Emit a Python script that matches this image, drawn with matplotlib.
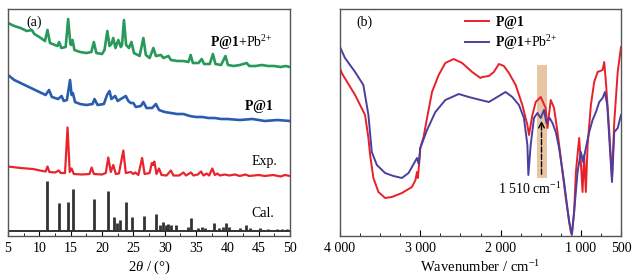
import matplotlib
matplotlib.use("Agg")
import matplotlib.pyplot as plt
from matplotlib.ticker import MultipleLocator, FixedLocator

plt.rcParams['font.family'] = ['Liberation Serif', 'DejaVu Serif']
plt.rcParams['mathtext.fontset'] = 'custom'
plt.rcParams['mathtext.rm'] = 'Liberation Serif'
plt.rcParams['mathtext.it'] = 'Liberation Serif:italic'
plt.rcParams['mathtext.bf'] = 'Liberation Serif:bold'

# ---- XRD data (2theta, offset intensity a.u.) ----
pb_2t = [5.0, 6.0, 7.0, 8.0, 8.8, 9.2, 10.0, 10.9, 11.3, 11.7, 12.5, 12.9, 13.15, 13.5, 14.2, 14.6,
         14.95, 15.1, 15.3, 15.6, 16.5, 17.5, 18.3, 18.7, 19.1, 20.0, 20.4, 20.85, 21.2, 21.5, 21.8,
         22.15, 22.6, 23.0, 23.2, 23.5, 23.85, 24.3, 24.7, 25.1, 26.0, 26.6, 27.0, 27.6, 28.2, 28.6,
         29.4, 29.8, 30.6, 31.0, 32.0, 33.0, 33.8, 34.15, 34.5, 35.4, 35.9, 36.3, 37.2, 37.7, 38.1,
         39.0, 39.7, 40.1, 41.0, 42.0, 43.1, 43.5, 44.5, 45.5, 46.5, 47.5, 48.5, 49.3, 50.0]
pb_int = [213, 210, 208, 205, 206, 202, 199, 195, 206, 193, 191, 190, 194, 188, 189, 217,
          192, 191, 196, 186, 184, 183, 184, 194, 183, 182, 186, 205, 190, 192, 198,
          188, 196, 189, 191, 216, 191, 188, 194, 183, 180, 198, 181, 178, 188, 180,
          181, 178, 180, 176, 175, 175, 174, 181, 173, 173, 177, 172, 172, 182, 172,
          171, 180, 171, 170, 171, 173, 170, 170, 171, 170, 170, 169, 170, 169]

p1_2t = [5.0, 6.0, 7.0, 8.0, 9.0, 10.0, 11.0, 11.55, 12.0, 13.0, 13.55, 13.9, 14.4, 14.9, 15.15,
         15.35, 15.7, 16.5, 17.5, 18.5, 18.8, 19.3, 20.3, 20.8, 21.2, 21.5, 22.1, 22.5, 23.0, 23.8,
         24.2, 24.6, 25.0, 25.4, 26.2, 26.6, 27.1, 28.0, 28.6, 29.1, 30.0, 31.0, 32.0, 33.0, 34.0,
         35.0, 36.0, 37.0, 38.0, 39.0, 40.0, 42.0, 44.0, 46.0, 48.0, 50.0]
p1_int = [161, 156, 153, 150, 147, 144, 141, 146, 139, 137, 140, 135, 136, 156, 141,
          143, 134, 132, 131, 132, 137, 131, 132, 141, 145, 137, 140, 135, 137, 140,
          135, 133, 133, 129, 130, 134, 128, 128, 132, 126, 124, 123, 122, 122, 120,
          119, 119, 118, 118, 117, 117, 116, 117, 115, 116, 115]

exp_2t = [5.0, 7.0, 9.0, 10.5, 11.0, 11.3, 11.6, 12.5, 13.1, 13.4, 14.1, 14.5, 14.85, 15.15, 15.5,
          16.8, 18.0, 18.35, 18.7, 20.0, 20.6, 21.0, 21.4, 21.8, 22.2, 22.7, 23.4, 23.8, 24.6, 25.0,
          25.3, 25.8, 26.4, 26.8, 27.6, 27.95, 28.15, 28.35, 28.7, 29.1, 29.5, 30.3, 31.0, 31.4,
          32.3, 33.0, 33.4, 34.2, 34.6, 35.3, 35.8, 36.2, 36.7, 37.1, 37.6, 38.0, 38.4, 38.8, 39.6,
          40.3, 41.2, 42.0, 42.9, 43.5, 45.0, 46.0, 47.3, 48.5, 49.2, 50.0]
exp_int = [69.5, 68, 67, 65, 64.5, 69.5, 64, 63.5, 65.5, 63, 63, 108.5, 64, 67.5, 62,
           61.5, 62, 68.5, 62, 61.5, 63, 78.5, 64, 71, 62, 62.5, 85.5, 63, 64, 62,
           63.5, 61, 78, 62, 63, 73, 71, 74.5, 62, 67.5, 61, 60.5, 65.5, 60.5,
           60.5, 63.5, 60.5, 63.5, 60.5, 61.5, 64.5, 60.5, 62.5, 60.5, 67.5, 61, 62.5, 60.5, 61.5,
           60.5, 61.5, 60, 61.5, 60, 61, 60, 61, 59.5, 61, 60]

cal_base = 5
cal_2t = [11.3, 13.1, 14.65, 15.35, 18.75, 20.95, 21.9, 22.45, 22.95, 23.75, 24.8, 26.65, 28.65,
          29.3, 29.8, 30.2, 30.6, 31.0, 31.8, 33.7, 34.25, 35.3, 36.0, 36.5, 37.9, 38.6, 39.3,
          39.85, 40.2, 42.0, 42.9, 43.6, 45.2, 46.5, 48.0, 48.8, 49.5]
cal_int = [55, 33, 34, 47, 37, 45, 19, 13, 16, 34, 19, 20, 22,
           11, 14, 11, 12, 11, 11, 9, 18, 8, 9, 8, 13, 8, 9,
           13, 9, 8, 11, 8, 8, 7, 7, 7, 7]

# ---- FT-IR data (wavenumber, transmittance a.u.) ----
ir_red_w = [4000, 3979, 3812, 3688, 3646, 3625, 3584, 3521, 3438, 3354, 3229, 3104, 3060, 3041, 3030,
            3010, 3000, 2959, 2916, 2854, 2771, 2688, 2584, 2479, 2354, 2250, 2229, 2146, 2084, 2021,
            1959, 1896, 1812, 1729, 1666, 1646, 1604, 1562, 1500, 1438, 1416, 1375, 1334, 1291, 1250,
            1188, 1125, 1112, 1084, 1062, 1021, 1000, 979, 959, 938, 916, 875, 834, 791, 729, 709,
            688, 646, 612, 584, 541, 500]
ir_red_t = [168, 163, 141, 121, 98, 81, 58, 44, 38, 39, 43, 49, 56, 64, 58,
            76, 88, 99, 118, 144, 161, 173, 177, 173, 164, 158, 159, 160, 164, 172,
            170, 163, 151, 131, 111, 101, 121, 134, 139, 128, 108, 136, 128, 104, 78,
            38, 4, 2, 24, 64, 98, 74, 44, 81, 44, 91, 131, 154, 164, 166, 174,
            154, 104, 58, 114, 164, 189]

ir_blue_w = [4000, 3938, 3812, 3709, 3646, 3604, 3541, 3438, 3334, 3229, 3146, 3041, 3020, 3000, 2916,
             2812, 2688, 2521, 2396, 2250, 2146, 2062, 1938, 1854, 1771, 1709, 1666, 1654, 1625, 1584,
             1541, 1500, 1459, 1429, 1388, 1354, 1312, 1271, 1209, 1146, 1112, 1084, 1041, 1000, 971,
             938, 896, 854, 812, 771, 729, 700, 670, 646, 612, 584, 541, 500]
ir_blue_t = [189, 178, 164, 151, 121, 84, 71, 63, 60, 58, 63, 78, 72, 88, 106,
             124, 136, 142, 139, 136, 134, 138, 144, 139, 131, 118, 91, 61, 91, 118,
             123, 118, 126, 113, 118, 113, 104, 88, 54, 14, 1, 24, 64, 84, 74,
             88, 104, 116, 124, 134, 138, 144, 130, 98, 54, 104, 108, 121]

band_lo, band_hi = 1425, 1550
band_y = (58, 171)
mark_w = 1490
mark_y = (59, 118)

pb_label = r'$\mathbf{P@1}$+Pb$^{2\text{+}}$'
p1_label = r'$\mathbf{P@1}$'

fig = plt.figure(figsize=(6.35, 2.78), dpi=100)
ax1 = fig.add_axes([8 / 635, 42 / 278, 282 / 635, 227 / 278])
ax2 = fig.add_axes([340 / 635, 42 / 278, 281 / 635, 227 / 278])

# (a) XRD
ax1.plot(pb_2t, pb_int, color='#27995a', lw=1.9)
ax1.plot(p1_2t, p1_int, color='#2a5db0', lw=1.9)
ax1.plot(exp_2t, exp_int, color='#e8252d', lw=1.6)
ax1.hlines(cal_base, 5, 50, color='#333333', lw=1.4)
ax1.vlines(cal_2t, cal_base, cal_int, color='#333333', lw=2.0)

ax1.set_xlim(5, 50)
ax1.set_ylim(0, 227)
ax1.set_yticks([])
ax1.xaxis.set_major_locator(MultipleLocator(5))
ax1.xaxis.set_minor_locator(MultipleLocator(2.5))
ax1.set_xlabel(r'2$\it{\theta}$ / (°)', fontsize=10.5, labelpad=3)

ax1.text(0.065, 0.94, '(a)', transform=ax1.transAxes, fontsize=10, va='center')
ax1.text(0.94, 0.85, pb_label, transform=ax1.transAxes, fontsize=10, ha='right', va='center')
ax1.text(0.94, 0.57, p1_label, transform=ax1.transAxes, fontsize=10, ha='right', va='center')
ax1.text(0.955, 0.33, 'Exp.', transform=ax1.transAxes, fontsize=10, ha='right', va='center')
ax1.text(0.945, 0.10, 'Cal.', transform=ax1.transAxes, fontsize=10, ha='right', va='center')

# (b) FT-IR
ax2.fill_between([band_hi, band_lo], band_y[0], band_y[1], color='#e9c6a3', lw=0)
ax2.plot(ir_red_w, ir_red_t, color='#e8202a', lw=1.4, label=p1_label)
ax2.plot(ir_blue_w, ir_blue_t, color='#4a3f9f', lw=1.4, label=pb_label)
ax2.annotate('', xy=(mark_w, mark_y[1]), xytext=(mark_w, mark_y[0]),
             arrowprops=dict(arrowstyle='->', ls='--', color='black', lw=1))
ax2.text(1640, 47, r'1 510 cm$^{-1}$', fontsize=10, ha='center', va='center')

ax2.set_xlim(4000, 500)
ax2.set_ylim(0, 227)
ax2.set_yticks([])
ax2.xaxis.set_major_locator(FixedLocator([4000, 3000, 2000, 1000, 500]))
ax2.set_xticklabels(['4 000', '3 000', '2 000', '1 000', '500'])
ax2.xaxis.set_minor_locator(MultipleLocator(250))
ax2.set_xlabel(r'Wavenumber / cm$^{-1}$', fontsize=10.5, labelpad=3)
ax2.text(0.06, 0.94, '(b)', transform=ax2.transAxes, fontsize=10, va='center')
ax2.legend(loc='upper left', bbox_to_anchor=(0.40, 1.035), frameon=False, fontsize=10,
           handlelength=1.7, handletextpad=0.5, labelspacing=0.2)

for ax in (ax1, ax2):
    ax.tick_params(axis='x', which='both', direction='in', labelsize=10, pad=4)
    ax.tick_params(axis='x', which='major', length=4)
    ax.tick_params(axis='x', which='minor', length=2)
    for s in ax.spines.values():
        s.set_color('#555555')
        s.set_linewidth(1)

fig.savefig('out.png', dpi=100)
